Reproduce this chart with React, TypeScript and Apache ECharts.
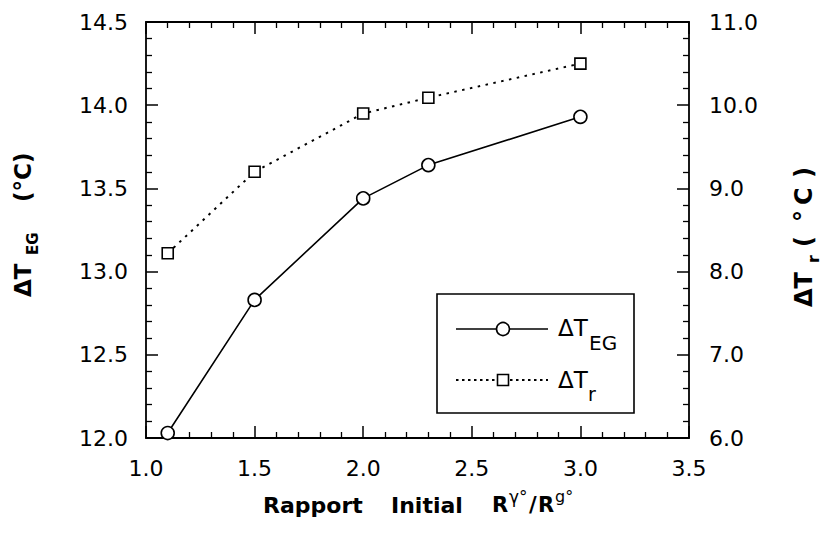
import React, { useEffect, useRef } from "react";
import * as echarts from "echarts";

const ratios = [1.1, 1.5, 2.0, 2.3, 3.0];
const deltaTEG = [12.03, 12.83, 13.44, 13.64, 13.93];
const deltaTr = [8.22, 9.2, 9.9, 10.09, 10.5];

const xTicks = { min: 1.0, max: 3.5, interval: 0.5 };
const yLeftTicks = { min: 12.0, max: 14.5, interval: 0.5 };
const yRightTicks = { min: 6.0, max: 11.0, interval: 1.0 };

const FONT = "DejaVu Sans";

export default function App() {
  const ref = useRef<HTMLDivElement>(null);

  useEffect(() => {
    if (!ref.current) return;
    const chart = echarts.init(ref.current, undefined, { renderer: "svg" });

    const axisLine = { show: true, lineStyle: { color: "#000", width: 1.8 } };
    const tick = { show: true, inside: true, length: 12, lineStyle: { color: "#000", width: 1.5 } };
    const minor = { show: true, splitNumber: 5, length: 6, lineStyle: { color: "#000", width: 1.3 } };
    const label = (m: number) => ({
      show: true,
      margin: m,
      color: "#000",
      fontFamily: FONT,
      fontSize: 22,
      formatter: (v: number) => v.toFixed(1),
    });

    const txt = (text: string, x: number, y: number, size: number, bold: boolean, extra: any = {}) => ({
      type: "text",
      x,
      y,
      style: {
        text,
        fill: "#000",
        font: `${bold ? "bold " : ""}${size}px ${FONT}`,
        align: "left",
        verticalAlign: "middle",
        ...extra,
      },
    });

    chart.setOption({
      animation: false,
      backgroundColor: "#fff",
      grid: { left: 146, right: 141, top: 22, bottom: 96, containLabel: false, outerBoundsMode: "none" },
      xAxis: [
        {
          type: "value",
          position: "bottom",
          ...xTicks,
          axisLine,
          axisTick: tick,
          minorTick: minor,
          axisLabel: label(19),
          splitLine: { show: false },
          minorSplitLine: { show: false },
        },
        {
          type: "value",
          position: "top",
          ...xTicks,
          axisLine,
          axisTick: tick,
          minorTick: minor,
          axisLabel: { show: false },
          splitLine: { show: false },
        },
      ],
      yAxis: [
        {
          type: "value",
          position: "left",
          ...yLeftTicks,
          axisLine,
          axisTick: tick,
          minorTick: minor,
          axisLabel: label(18),
          splitLine: { show: false },
        },
        {
          type: "value",
          position: "right",
          ...yRightTicks,
          axisLine,
          axisTick: tick,
          minorTick: minor,
          axisLabel: label(20),
          splitLine: { show: false },
        },
      ],
      series: [
        {
          name: "ΔT_EG",
          type: "line",
          xAxisIndex: 0,
          yAxisIndex: 0,
          data: ratios.map((x, i) => [x, deltaTEG[i]]),
          symbol: "circle",
          symbolSize: 13,
          lineStyle: { color: "#000", width: 1.6 },
          itemStyle: { color: "#fff", borderColor: "#000", borderWidth: 1.6 },
          z: 5,
        },
        {
          name: "ΔT_r",
          type: "line",
          xAxisIndex: 0,
          yAxisIndex: 1,
          data: ratios.map((x, i) => [x, deltaTr[i]]),
          symbol: "rect",
          symbolSize: 11,
          lineStyle: { color: "#000", width: 2, type: [2.5, 5.5] },
          itemStyle: { color: "#fff", borderColor: "#000", borderWidth: 1.6 },
          z: 5,
        },
      ],
      graphic: [
        // x-axis title
        txt("Rapport", 263, 505, 22, true),
        txt("Initial", 391, 505, 22, true),
        txt("R", 492, 505, 21, true),
        txt("γ°", 509, 497, 17, false),
        txt("/", 529, 505, 21, true),
        txt("R", 538, 505, 21, true),
        txt("g°", 555, 496, 16, false),
        // left y title
        {
          type: "group",
          x: 23,
          y: 297,
          rotation: Math.PI / 2,
          children: [
            txt("ΔT", 0, 0, 23, true),
            txt("EG", 42, 10, 15, true),
            txt("(°C)", 95, 0, 23, true),
          ],
        },
        // right y title
        {
          type: "group",
          x: 804,
          y: 307,
          rotation: Math.PI / 2,
          children: [
            txt("ΔT", 0, 0, 24, true),
            txt("r", 44, 9, 16, true),
            txt("(", 60, 0, 24, true),
            txt("°", 85, 0, 24, true),
            txt("C", 102, 0, 24, true),
            txt(")", 129, 0, 24, true),
          ],
        },
        // legend
        {
          type: "rect",
          shape: { x: 437, y: 294, width: 197, height: 119 },
          style: { fill: "#fff", stroke: "#000", lineWidth: 1.6 },
          z: 10,
        },
        {
          type: "line",
          shape: { x1: 456, y1: 329, x2: 548, y2: 329 },
          style: { stroke: "#000", lineWidth: 1.6 },
          z: 11,
        },
        {
          type: "circle",
          shape: { cx: 503, cy: 329, r: 6.5 },
          style: { fill: "#fff", stroke: "#000", lineWidth: 1.6 },
          z: 12,
        },
        {
          type: "line",
          shape: { x1: 456, y1: 380, x2: 548, y2: 380 },
          style: { stroke: "#000", lineWidth: 2, lineDash: [2.5, 3.5] },
          z: 11,
        },
        {
          type: "rect",
          shape: { x: 497.5, y: 374.5, width: 11, height: 11 },
          style: { fill: "#fff", stroke: "#000", lineWidth: 1.6 },
          z: 12,
        },
        { ...txt("ΔT", 558, 328, 23, false), z: 12 },
        { ...txt("EG", 589, 343, 20, false), z: 12 },
        { ...txt("ΔT", 558, 380, 23, false), z: 12 },
        { ...txt("r", 588, 394, 19, false), z: 12 },
      ],
    });

    return () => chart.dispose();
  }, []);

  return (
    <div
      ref={ref}
      style={{ position: "absolute", left: 0, top: 0, width: 830, height: 534, background: "#fff" }}
    />
  );
}
